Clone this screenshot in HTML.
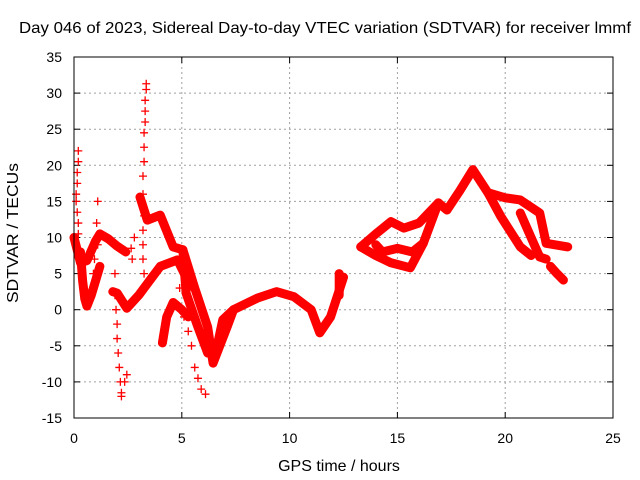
<!DOCTYPE html>
<html><head><meta charset="utf-8"><style>
body{margin:0;background:#fff}
svg{display:block;font-family:"Liberation Sans",sans-serif}
</style></head><body>
<svg id="c" width="640" height="480">
<text x="325" y="33" font-size="16" textLength="612" lengthAdjust="spacingAndGlyphs" text-anchor="middle">Day 046 of 2023, Sidereal Day-to-day VTEC variation (SDTVAR) for receiver lmmf</text>
<text x="339" y="471" font-size="16" text-anchor="middle">GPS time / hours</text>
<text x="18" y="233" font-size="16" textLength="140" lengthAdjust="spacingAndGlyphs" text-anchor="middle" transform="rotate(-90 18 233)">SDTVAR / TECUs</text>
<g id="grid"></g>
<g id="axes"></g>
<g id="marks"></g>
<rect x="74" y="57" width="539" height="361" fill="none" stroke="#000"/>
</svg>
<script>
const xTicks=[0,5,10,15,20,25];
const yTicks=[-15,-10,-5,0,5,10,15,20,25,30,35];
const bandA=[[0,10],[0.3,6.5],[0.6,6.8],[1.0,9.5],[1.2,10.5],[1.6,9.8],[2.0,8.8],[2.4,8.0]];
const bandB=[[0.3,8],[0.4,4],[0.5,1.5],[0.6,0.5],[0.8,2],[1.0,4],[1.2,6]];
const bandC=[[1.8,2.5],[2.0,2.3],[2.45,0.2],[3.0,2],[3.5,4],[4.0,6],[4.8,6.9],[5.2,4.5],[5.5,3.2]];
const bandD=[[3.06,15.6],[3.4,12.4],[4.0,13.1],[4.6,8.7],[5.05,8.3],[5.6,3],[6.2,-2.4],[6.45,-7.4],[7.1,-2.4],[7.4,0],[8.5,1.6],[9.4,2.5],[10.2,1.8],[11.0,0],[11.4,-3.2],[11.9,-1],[12.5,4.5]];
const bandE=[[5.05,8.3],[5.2,2.3],[5.7,-2],[6.2,-6],[6.6,-5.6],[6.9,-1.4],[7.4,0]];
const bandF=[[4.1,-4.6],[4.3,-1],[4.6,1],[5.0,0],[5.3,-1]];
const bandG=[[13.3,8.7],[14.0,10.5],[14.7,12.2],[15.3,11.3],[16.0,12],[16.9,14.8],[17.3,13.8],[17.9,16.5],[18.5,19.4],[19.2,16.2],[20.0,15.5],[20.7,15.2],[21.6,13.4],[21.9,9.2],[22.9,8.7]];
const bandH=[[13.3,8.7],[14.0,7.5],[14.7,6.5],[15.6,5.8],[16.2,9.2],[16.9,14.8]];
const bandI=[[14.0,9],[14.3,8],[15.0,8.5],[15.7,8],[16.2,9.2]];
const bandJ=[[19.2,16.2],[19.8,12.9],[20.7,8.7],[21.2,7.5]];
const bandK=[[20.7,13.4],[21.2,10],[21.6,7.3],[21.9,7]];
const bandL=[[22.1,6],[22.4,5],[22.7,4.1]];
const bandM=[[12.3,5],[12.3,2]];
const spike1=[[0.2,22],[0.2,20.5],[0.15,19],[0.15,17.5],[0.1,16],[0.1,15],[0.15,13.5],[0.2,12],[0.2,10.5]];
const spike2=[[1.9,5],[1.9,2],[1.95,0],[2.0,-2],[2.0,-4],[2.05,-6],[2.1,-8],[2.15,-10],[2.2,-11.5],[2.2,-12],[2.35,-10],[2.45,-9]];
const spike3=[[3.35,31.3],[3.35,30.5],[3.3,29],[3.3,27.5],[3.3,26],[3.25,24.5],[3.25,22.5],[3.25,20.5],[3.2,18.5],[3.2,16],[3.25,13],[3.2,11],[3.2,9],[3.2,7],[3.25,5]];
const spike4=[[4.9,3],[5.1,-1],[5.3,-3],[5.45,-5],[5.6,-8],[5.75,-9.5],[5.9,-11],[6.1,-11.7]];
const spike5=[[1.1,15],[1.05,12],[1.1,9],[0.95,7],[0.9,5]];
const spike6=[[2.65,8.5],[2.7,7],[2.8,10]];
const bands=[bandA,bandB,bandC,bandD,bandE,bandF,bandG,bandH,bandI,bandJ,bandK,bandL,bandM];
const spikes=[spike1,spike2,spike3,spike4,spike5,spike6];
const X=h=>74+h*539/25, Y=v=>418-(v+15)*361/50;
const NS='http://www.w3.org/2000/svg';
const grid=document.getElementById('grid'),axes=document.getElementById('axes'),marks=document.getElementById('marks');
function mk(tag,attrs,parent){const e=document.createElementNS(NS,tag);for(const k in attrs)e.setAttribute(k,attrs[k]);parent.appendChild(e);return e;}
xTicks.forEach(t=>{const x=X(t);
 if(t>0&&t<25){const g=mk('line',{x1:x,x2:x,y1:57,y2:418,stroke:'#a0a0a0','stroke-dasharray':'2,3'},grid);}
 const tx=mk('text',{x:x,y:443,'font-size':14,'text-anchor':'middle'},axes);tx.textContent=t;
 
 
 mk('line',{x1:x,x2:x,y1:418,y2:412,stroke:'#000'},axes);mk('line',{x1:x,x2:x,y1:57,y2:63,stroke:'#000'},axes);});
yTicks.forEach(t=>{const y=Y(t);
 if(t>-15&&t<35){const g=mk('line',{x1:74,x2:613,y1:y,y2:y,stroke:'#a0a0a0','stroke-dasharray':'2,3'},grid);}
 const tx=mk('text',{x:62,y:y+5,'font-size':14,'text-anchor':'end'},axes);tx.textContent=t;
 
 
 mk('line',{x1:74,x2:80,y1:y,y2:y,stroke:'#000'},axes);mk('line',{x1:613,x2:607,y1:y,y2:y,stroke:'#000'},axes);});
bands.forEach(b=>{const p=mk('polyline',{points:b.map(d=>X(d[0])+','+Y(d[1])).join(' '),fill:'none',stroke:'#ff0000','stroke-width':9,'stroke-linejoin':'round','stroke-linecap':'round'},marks);
 
 });
spikes.forEach(s=>s.forEach(d=>{const x=X(d[0]),y=Y(d[1]);
 const p=mk('path',{d:`M${x-4},${y}h8M${x},${y-4}v8`,stroke:'#ff0000','stroke-width':1.3,fill:'none'},marks);
 
 }));
</script>
</body></html>
